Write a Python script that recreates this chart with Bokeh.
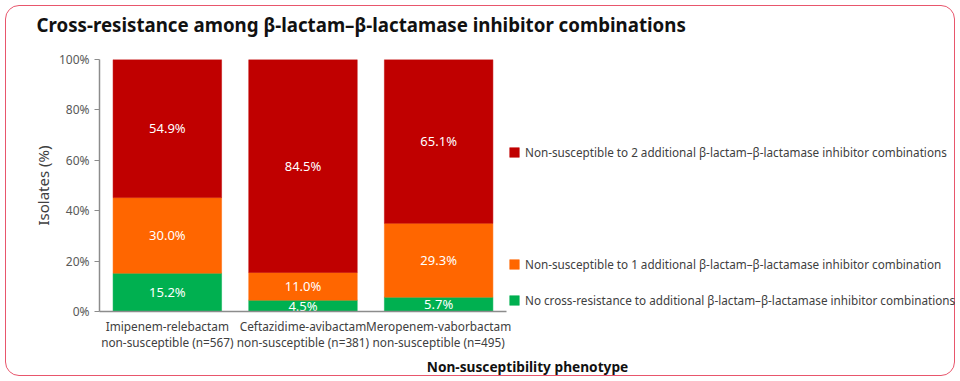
from bokeh.plotting import figure
from bokeh.models import (ColumnDataSource, Range1d, Legend, LegendItem, Title,
                          PrintfTickFormatter, FixedTicker)
from bokeh.core.properties import value
from bokeh.embed import file_html
from bokeh.resources import INLINE

# ---- data ----
title_text = "Cross-resistance among \u03b2-lactam\u2013\u03b2-lactamase inhibitor combinations"
phenotypes = ["Imipenem-relebactam", "Ceftazidime-avibactam", "Meropenem-vaborbactam"]
tick_labels = ["Imipenem-relebactam\nnon-susceptible (n=567)",
               "Ceftazidime-avibactam\nnon-susceptible (n=381)",
               "Meropenem-vaborbactam\nnon-susceptible (n=495)"]
series_keys = ["no_cross", "ns_one", "ns_two"]
series_names = ["No cross-resistance to additional \u03b2-lactam\u2013\u03b2-lactamase inhibitor combinations",
                "Non-susceptible to 1 additional \u03b2-lactam\u2013\u03b2-lactamase inhibitor combination",
                "Non-susceptible to 2 additional \u03b2-lactam\u2013\u03b2-lactamase inhibitor combinations"]
no_cross = [15.2, 4.5, 5.7]
ns_one = [30.0, 11.0, 29.3]
ns_two = [54.9, 84.5, 65.1]
y_ticks = [0, 20, 40, 60, 80, 100]

colors = ["#00B050", "#FF6600", "#C00000"]
FONT = "Noto Sans"
TXT = "#404040"

xpos = list(range(len(phenotypes)))
src = ColumnDataSource(dict(x=xpos, no_cross=no_cross, ns_one=ns_one, ns_two=ns_two))

p = figure(x_range=Range1d(-0.5, 5.81), y_range=Range1d(0, 100),
           width=960, height=381, output_backend="svg", toolbar_location=None,
           min_border_left=99, min_border_right=5, min_border_top=0, min_border_bottom=70)
p.title.text = ""
p.border_fill_color = None
p.background_fill_color = None

renderers = p.vbar_stack(series_keys, x="x", width=0.8, fill_color=colors, line_color=colors,
                         line_width=0.5, source=src)

# data labels centred in each segment
lx, ly, lt = [], [], []
for i in xpos:
    bottom = 0.0
    for vals in (no_cross, ns_one, ns_two):
        v = vals[i]
        lx.append(i)
        ly.append(bottom + v / 2)
        lt.append(f"{v:.1f}%")
        bottom += v
p.text(x="x", y="y", text="t", source=ColumnDataSource(dict(x=lx, y=ly, t=lt)),
       text_align="center", text_baseline="middle", text_color="white",
       text_font=value(FONT), text_font_size="13px")

# legends (one per entry, to the right of the bars)
legend_pos = [(409, 3), (409, 39), (409, 151)]
for r, name, pos in zip(renderers, series_names, legend_pos):
    lg = Legend(items=[LegendItem(label=name, renderers=[r])], location=pos,
                background_fill_alpha=0, border_line_color=None, padding=0, margin=0,
                spacing=0, glyph_width=12, glyph_height=12, label_height=12,
                label_standoff=5, label_text_font=FONT, label_text_font_size="11.7px",
                label_text_color=TXT)
    p.add_layout(lg, "center")

# title (a spacer title keeps the gap between the heading and the plot frame)
spacer = Title(text=" ", text_font_size="2px", standoff=9)
main_title = Title(text=title_text, text_font=FONT, text_font_size="18.7px",
                   text_font_style="bold", text_color="#111111", align="left",
                   offset=-63, standoff=19)
p.add_layout(spacer, "above")
p.add_layout(main_title, "above")

# axes
p.xgrid.grid_line_color = None
p.ygrid.grid_line_color = None
p.outline_line_color = None

p.yaxis.ticker = FixedTicker(ticks=y_ticks)
p.yaxis.formatter = PrintfTickFormatter(format="%d%%")
p.yaxis.axis_label = "Isolates (%)"
p.yaxis.axis_label_text_font = FONT
p.yaxis.axis_label_text_font_size = "15px"
p.yaxis.axis_label_text_font_style = "normal"
p.yaxis.axis_label_text_color = TXT
p.yaxis.axis_label_standoff = 3
p.yaxis.major_label_text_font = FONT
p.yaxis.major_label_text_font_size = "12px"
p.yaxis.major_label_text_color = "#595959"
p.yaxis.major_label_standoff = 5
p.yaxis.major_tick_in = 0
p.yaxis.major_tick_out = 5
p.yaxis.minor_tick_line_color = None
p.yaxis.axis_line_color = "#8c8c8c"
p.yaxis.major_tick_line_color = "#8c8c8c"
p.yaxis.axis_line_width = 1.5

p.xaxis.ticker = FixedTicker(ticks=xpos)
p.xaxis.major_label_overrides = {i: lab for i, lab in zip(xpos, tick_labels)}
p.xaxis.bounds = (-0.5, len(phenotypes) - 0.5)
p.xaxis.axis_label = "Non-susceptibility phenotype"
p.xaxis.axis_label_text_font = FONT
p.xaxis.axis_label_text_font_size = "13.7px"
p.xaxis.axis_label_text_font_style = "bold"
p.xaxis.axis_label_text_color = "#111111"
p.xaxis.axis_label_standoff = 4
p.xaxis.major_label_text_font = FONT
p.xaxis.major_label_text_font_size = "11.8px"
p.xaxis.major_label_text_line_height = 1.0
p.xaxis.major_label_text_color = TXT
p.xaxis.major_label_standoff = 6
p.xaxis.major_tick_line_color = None
p.xaxis.major_tick_out = 0
p.xaxis.minor_tick_line_color = None
p.xaxis.axis_line_color = "#8c8c8c"
p.xaxis.axis_line_width = 1.5

p.styles = {"outline": "1.5px solid #e8566c", "outline-offset": "-6px", "border-radius": "19px"}

open("out.html", "w").write(file_html(p, INLINE))
